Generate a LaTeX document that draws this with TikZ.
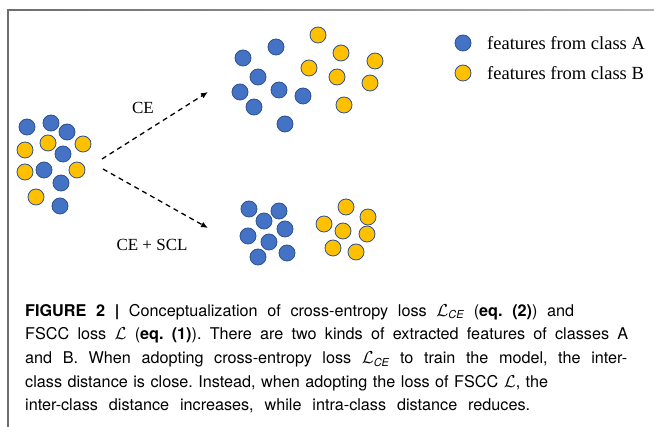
\documentclass[tikz,border=0pt]{standalone}
\usepackage{fontspec}
\setmainfont{Liberation Serif}
\newfontfamily\capfont{TeX Gyre Heros}
\usetikzlibrary{arrows.meta}
\definecolor{clsA}{HTML}{4472C4}
\definecolor{clsB}{HTML}{FFC000}
\definecolor{rim}{HTML}{2F528F}
\definecolor{framegray}{HTML}{6E6E6E}
\frenchspacing
\newcommand{\lossCE}{$\mathcal{L}_{\mbox{\fontsize{11}{11}\selectfont\itshape CE}}$}
\newcommand{\capline}[2]{\makebox[#1][s]{#2}}
\tikzset{
  ptA/.style={circle, fill=clsA, draw=rim, line width=0.8pt, minimum size=16pt, inner sep=0pt},
  ptB/.style={circle, fill=clsB, draw=rim, line width=0.8pt, minimum size=16pt, inner sep=0pt},
  flow/.style={dashed, dash pattern=on 5pt off 4pt, line width=1.3pt, -{Latex[length=7pt,width=6pt]}},
  lbl/.style={font=\fontsize{17}{20}\selectfont, inner sep=0pt},
  legtxt/.style={font=\fontsize{18.5}{20}\selectfont, anchor=west, inner sep=0pt},
  captxt/.style={font=\capfont\fontsize{16.2}{23.6}\selectfont, anchor=north west, inner sep=0pt, align=left}
}
\begin{document}
\begin{tikzpicture}[x=1pt, y=-1pt]
\useasboundingbox (0,0) rectangle (654,427);
% frame: left rule and fading top rule
\fill[framegray] (7.2,9.5) rectangle (8.8,427);
\shade[left color=framegray, right color=framegray!55] (7.2,9.5) rectangle (654,11);

% input cluster (mixed features)
\foreach \n/\x/\y in {1/27/127, 2/51/123, 3/67/132, 4/63/154, 5/44/170, 6/61/183, 7/60/206}
  \node[ptA] (inA\n) at (\x,\y) {};
\foreach \n/\x/\y in {1/25/150, 2/48/143, 3/83/144, 4/25/172, 5/77/170, 6/36/197}
  \node[ptB] (inB\n) at (\x,\y) {};

% result of CE
\foreach \n/\x/\y in {1/243/58, 2/276/47, 3/258/77, 4/240/92, 5/279/90, 6/303/96, 7/254/107, 8/285/124}
  \node[ptA] (ceA\n) at (\x,\y) {};
\foreach \n/\x/\y in {1/318/35, 2/341/53, 3/309/68, 4/337/77, 5/375/61, 6/370/83, 7/344/105}
  \node[ptB] (ceB\n) at (\x,\y) {};

% result of CE + SCL
\foreach \n/\x/\y in {1/249/209, 2/279/211, 3/264/221, 4/285/229, 5/248/236, 6/269/242, 7/258/257, 8/287/253}
  \node[ptA] (sclA\n) at (\x,\y) {};
\foreach \n/\x/\y in {1/346/207, 2/368/217, 3/324/224, 4/343/231, 5/367/234, 6/333/248, 7/356/252}
  \node[ptB] (sclB\n) at (\x,\y) {};

% arrows
\coordinate (s1) at (102,159);
\coordinate (e1) at (208,92);
\coordinate (s2) at (103,169);
\coordinate (e2) at (208,228);
\draw[flow] (s1) -- (e1);
\draw[flow] (s2) -- (e2);
\node[lbl] (ce) at (143,108) {CE};
\node[lbl] (cescl) at (152,245) {CE + SCL};

% legend
\node[ptA] (legA) at (463,43) {};
\node[ptB] (legB) at (463,73) {};
\node[legtxt] (legAt) at (487,43) {features from class A};
\node[legtxt] (legBt) at (487,73) {features from class B};

% caption, each printed line set to its own width
\node[captxt] (cap) at (25,304) {%
\capline{549pt}{\textbf{FIGURE 2 |} Conceptualization of cross-entropy loss \lossCE{} (\textbf{eq. (2)}) and}\\
\capline{603pt}{FSCC loss $\mathcal{L}$ (\textbf{eq. (1)}). There are two kinds of extracted features of classes A}\\
\capline{602pt}{and B. When adopting cross-entropy loss \lossCE{} to train the model, the inter-}\\
\capline{523pt}{class distance is close. Instead, when adopting the loss of FSCC $\mathcal{L}$, the}\\
\capline{505pt}{inter-class distance increases, while intra-class distance reduces.}};
\end{tikzpicture}
\end{document}
